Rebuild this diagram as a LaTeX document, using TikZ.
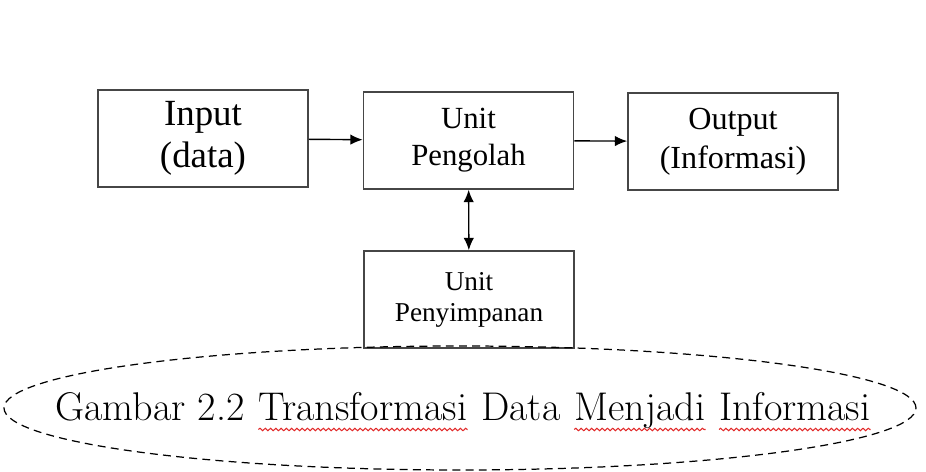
\documentclass[tikz,border=0pt]{standalone}
\usepackage{fontspec}
\newfontfamily\boxfont{Liberation Serif}
\usepackage{tikz}
\usetikzlibrary{
  arrows.meta, positioning, shapes.geometric,
  decorations.pathmorphing
}
\usepackage{xcolor}
\definecolor{boxline}{RGB}{70, 70, 70}
\definecolor{spellred}{RGB}{225, 40, 40}

\begin{document}
\begin{tikzpicture}[
    box/.style={draw=boxline, line width=1pt, minimum width=4.2cm,
                minimum height=1.94cm, align=center, inner sep=2pt},
    arrow/.style={-{Latex[length=7pt, width=6pt]}, line width=0.8pt},
    biarrow/.style={{Latex[length=7pt, width=6pt]}-{Latex[length=7pt, width=6pt]},
                    line width=0.8pt},
    word/.style={inner sep=0pt, font=\fontsize{22.8}{26}\selectfont},
    wavy/.style={spellred, line width=0.6pt, decorate,
                 decoration={snake, amplitude=0.7pt, segment length=3pt}},
  ]
    \useasboundingbox (0,0) rectangle (18.52,9.44);

    % Input
    \node[box, font=\boxfont\fontsize{21}{24}\selectfont] (input) at (4.06,6.67)
      {Input\\(data)};

    % Processing unit
    \node[box, font=\boxfont\fontsize{17.5}{21}\selectfont] (proc) at (9.37,6.63)
      {Unit\\Pengolah};

    % Output
    \node[box, font=\boxfont\fontsize{18.3}{22}\selectfont] (output) at (14.66,6.61)
      {Output\\(Informasi)};

    % Storage unit
    \node[box, font=\boxfont\fontsize{15.5}{17.6}\selectfont] (store) at (9.38,3.45)
      {Unit\\Penyimpanan};

    % Arrows
    \draw[arrow] (input) -- (proc);
    \draw[arrow] (proc) -- (output);
    \draw[biarrow] (proc) -- (store);

    % Caption ring
    \node[draw, ellipse, dashed, dash pattern=on 4.5pt off 3pt, line width=0.7pt,
          minimum width=18.24cm, minimum height=2.48cm] (ring) at (9.2,1.28) {};

    % Caption words
    \node[word, anchor=base west] (gbr) at (1.1,1.02) {Gambar 2.2};
    \node[word, base right=7.6pt of gbr] (trans) {Transformasi};
    \node[word, base right=7.6pt of trans] (data) {Data};
    \node[word, base right=7.6pt of data] (menj) {Menjadi};
    \node[word, base right=7.6pt of menj] (info) {Informasi};

    % Spell check marks
    \draw[wavy] ([yshift=-0.17cm]trans.base west) -- ([yshift=-0.17cm]trans.base east);
    \draw[wavy] ([yshift=-0.17cm]menj.base west) -- ([yshift=-0.17cm]menj.base east);
    \draw[wavy] ([yshift=-0.17cm]info.base west) -- ([yshift=-0.17cm]info.base east);
  \end{tikzpicture}
\end{document}
